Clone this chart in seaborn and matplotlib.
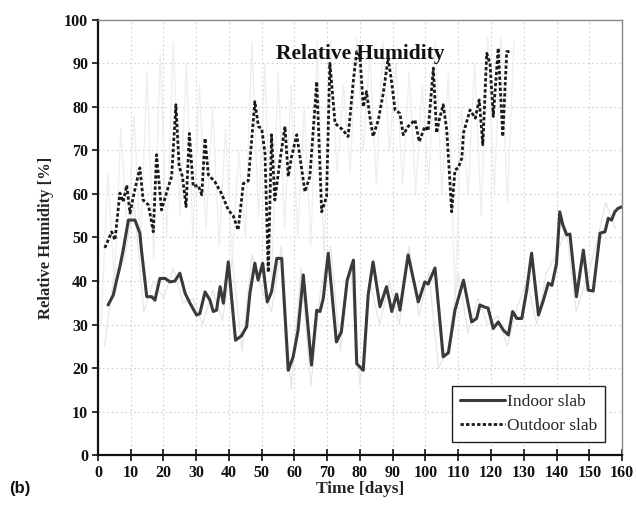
import matplotlib
matplotlib.use("Agg")
import matplotlib.pyplot as plt
import seaborn as sns
import pandas as pd

# ---- data ----
outdoor_days = [2.1, 4.2, 5.2, 6.7, 7.7, 8.8, 9.8, 10.8, 12.8, 13.8,
                15.4, 16.9, 17.9, 19.4, 21.5, 22.5, 23.8, 24.8, 25.8, 26.9,
                27.9, 29.1, 30.6, 31.7, 32.7, 33.7, 35.7, 37.8, 39.8, 41.3,
                42.8, 44.4, 45.9, 47.9, 49.0, 50.0, 51.0, 52.0, 53.0, 54.0,
                55.6, 57.1, 58.1, 59.1, 60.7, 63.2, 64.7, 66.8, 68.3, 69.8,
                70.8, 72.4, 74.5, 76.4, 78.0, 79.0, 80.0, 81.0, 82.0, 83.0,
                84.0, 85.6, 87.1, 88.6, 89.7, 90.7, 92.2, 93.2, 94.7, 96.8,
                98.1, 99.8, 100.8, 102.4, 103.4, 104.2, 105.4, 106.5, 108.0, 109.0,
                110.0, 111.1, 111.6, 113.6, 115.2, 116.4, 117.5, 118.7, 119.7, 120.7,
                122.2, 123.6, 124.8, 125.8]
outdoor_rh = [47.6, 51.3, 49.4, 60.2, 58.2, 62.0, 55.6, 59.4, 66.0, 58.6,
              57.5, 51.3, 69.0, 56.3, 61.7, 64.0, 80.5, 66.3, 64.0, 57.1,
              73.9, 61.7, 62.0, 59.8, 72.8, 64.4, 62.8, 60.0, 56.3, 55.0,
              51.7, 62.4, 63.0, 81.2, 75.5, 75.0, 69.4, 42.0, 73.6, 58.6,
              67.8, 75.5, 64.0, 68.5, 73.6, 60.5, 64.0, 85.8, 55.9, 59.4,
              90.0, 76.2, 74.9, 73.2, 86.2, 92.7, 91.6, 80.0, 83.5, 77.8,
              73.2, 77.0, 83.1, 91.2, 85.5, 79.3, 78.5, 73.6, 75.5, 77.0,
              72.0, 75.5, 74.5, 88.9, 74.0, 77.0, 80.5, 74.7, 55.9, 65.5,
              66.0, 68.2, 74.0, 79.3, 77.4, 81.6, 71.3, 92.3, 90.0, 77.8,
              93.5, 73.2, 92.7, 92.7]

indoor_days = [3.1, 4.7, 5.7, 6.7, 7.7, 9.3, 11.3, 12.8, 13.3, 14.9,
               16.4, 17.4, 18.9, 20.5, 22.0, 23.5, 25.0, 26.6, 28.1, 30.1,
               31.1, 32.7, 34.2, 35.2, 36.2, 37.3, 38.3, 39.8, 42.0, 43.8,
               45.4, 46.4, 47.9, 48.9, 50.3, 51.7, 53.0, 54.6, 56.1, 58.1,
               59.6, 61.1, 62.7, 65.2, 66.8, 67.8, 68.8, 70.3, 72.8, 74.3,
               76.1, 78.0, 79.0, 81.0, 82.5, 84.0, 86.1, 88.1, 89.7, 91.2,
               92.2, 94.7, 97.8, 99.8, 100.8, 102.9, 105.4, 107.0, 109.0, 111.6,
               114.1, 115.6, 116.6, 118.1, 119.1, 120.7, 122.2, 123.8, 125.3, 126.6,
               127.9, 129.4, 130.9, 132.4, 134.5, 136.0, 137.5, 138.6, 140.0, 141.0,
               141.9, 143.1, 144.1, 146.1, 148.2, 149.7, 151.2, 153.3, 154.8, 155.8,
               156.8, 157.8, 158.8, 159.8]
indoor_rh = [34.5, 36.8, 40.2, 43.3, 47.1, 54.0, 54.0, 51.0, 47.0, 36.4,
             36.4, 35.6, 40.6, 40.6, 39.8, 40.0, 41.8, 37.2, 34.9, 32.2,
             32.5, 37.5, 35.6, 33.0, 33.3, 38.7, 34.9, 44.4, 26.4, 27.4,
             29.5, 37.2, 44.1, 40.2, 44.1, 35.2, 37.5, 45.2, 45.2, 19.5,
             22.6, 28.7, 41.4, 20.7, 33.3, 33.0, 36.0, 46.4, 26.0, 28.3,
             40.2, 44.8, 21.0, 19.5, 36.8, 44.4, 34.1, 38.7, 33.0, 37.0,
             33.3, 46.0, 35.2, 39.8, 39.3, 43.0, 22.6, 23.5, 33.3, 40.2,
             30.6, 31.4, 34.5, 34.0, 33.8, 29.1, 30.6, 28.7, 27.6, 33.0,
             31.4, 31.4, 37.9, 46.4, 32.2, 35.6, 39.5, 39.0, 44.0, 55.9,
             53.0, 50.6, 50.8, 36.4, 47.1, 37.9, 37.7, 51.0, 51.3, 54.4,
             54.0, 55.9, 56.7, 57.0]

# faint raw (unsmoothed) records in the background
raw_out_days = [1, 3, 5, 7, 9, 11, 13, 15, 17, 19, 21, 23, 25, 27, 29, 31,
                33, 35, 37, 39, 41, 43, 45, 47, 49, 51, 53, 55, 57, 59, 61, 63,
                65, 67, 69, 71, 73, 75, 77, 79, 81, 83, 85, 87, 89, 91, 93, 95,
                97, 99, 101, 103, 105, 107, 109, 111, 113, 115, 117, 119, 121, 123, 125, 127]
raw_out_rh = [30, 65, 40, 75, 50, 78, 48, 88, 45, 92, 50, 95, 55, 90, 50, 85,
              52, 80, 48, 75, 45, 70, 50, 95, 55, 90, 38, 88, 52, 85, 50, 80,
              48, 95, 45, 95, 65, 85, 65, 96, 70, 92, 62, 95, 70, 90, 62, 88,
              60, 85, 62, 95, 60, 88, 35, 80, 60, 90, 55, 96, 60, 96, 58, 95]
raw_in_days = [2, 5, 8, 11, 14, 17, 20, 23, 26, 29, 32, 35, 38, 41, 44, 47,
               50, 53, 56, 59, 62, 65, 68, 71, 74, 77, 80, 83, 86, 89, 92, 95,
               98, 101, 104, 107, 110, 113, 116, 119, 122, 125, 128, 131, 134, 137,
               140, 143, 146, 149, 152, 155, 158]
raw_in_rh = [25, 42, 45, 58, 33, 40, 36, 43, 35, 36, 30, 38, 31, 45, 24, 46,
             38, 33, 48, 15, 43, 16, 38, 48, 24, 44, 16, 40, 30, 40, 30, 48,
             32, 42, 20, 25, 42, 28, 36, 30, 32, 25, 34, 40, 30, 42,
             46, 52, 33, 40, 48, 58, 52]

x_ticks = list(range(0, 161, 10))
y_ticks = list(range(0, 101, 10))

# ---- style ----
sns.set_style("ticks")
plt.rcParams["font.family"] = ["Liberation Serif", "DejaVu Serif"]
plt.rcParams["font.weight"] = "bold"

fig = plt.figure(figsize=(6.36, 5.08), dpi=100)
ax = fig.add_axes([0.154, 0.104, 0.824, 0.857])

raw_out = pd.DataFrame({"day": raw_out_days, "rh": raw_out_rh})
raw_in = pd.DataFrame({"day": raw_in_days, "rh": raw_in_rh})
sns.lineplot(data=raw_out, x="day", y="rh", ax=ax, color="#eeeeee", lw=0.9, zorder=1)
sns.lineplot(data=raw_in, x="day", y="rh", ax=ax, color="#e6e6e6", lw=0.9, zorder=1)

ind = pd.DataFrame({"day": indoor_days, "rh": indoor_rh})
out = pd.DataFrame({"day": outdoor_days, "rh": outdoor_rh})
sns.lineplot(data=ind, x="day", y="rh", ax=ax, color="#3a3a3a", lw=2.2,
             label="Indoor slab", zorder=3)
sns.lineplot(data=out, x="day", y="rh", ax=ax, color="#1a1a1a", lw=2.0,
             linestyle=(0, (1.2, 0.8)), label="Outdoor slab", zorder=3)

ax.set_xlim(0, 160)
ax.set_ylim(0, 100)
ax.set_xticks(x_ticks)
ax.set_yticks(y_ticks)
ax.grid(True, color="#d0d0d0", linestyle=(0, (1.5, 2.5)), lw=0.8)
ax.set_axisbelow(True)

for s in ["left", "bottom"]:
    ax.spines[s].set_color("#111111")
    ax.spines[s].set_linewidth(1.6)
for s in ["top", "right"]:
    ax.spines[s].set_color("#888888")
    ax.spines[s].set_linewidth(1.0)

ax.tick_params(axis="x", direction="inout", length=8, width=1.2, colors="#111111",
               labelsize=11.5, pad=3)
ax.tick_params(axis="y", direction="out", length=4, width=1.2, colors="#111111",
               labelsize=11.5, pad=3)
for lab in ax.get_xticklabels() + ax.get_yticklabels():
    lab.set_fontweight("bold")

ax.set_xlabel("Time [days]", fontsize=12.5, fontweight="bold", labelpad=0)
ax.set_ylabel("Relative Humidity [%]", fontsize=12, fontweight="bold", labelpad=7)
ax.text(0.5, 0.945, "Relative Humidity", transform=ax.transAxes, ha="center",
        va="top", fontsize=15.5, fontweight="bold", color="#111111")

leg = ax.legend(loc="lower right", frameon=True, fancybox=False, framealpha=1,
                edgecolor="#222222", handlelength=2.6,
                handletextpad=0.15, borderpad=0.45, labelspacing=0.45,
                bbox_to_anchor=(0.985, 0.01),
                prop={"family": ["Liberation Serif"], "weight": "normal", "size": 12.5})
leg.get_frame().set_linewidth(1.0)

fig.text(0.015, 0.03, "(b)", fontsize=12, fontweight="bold",
         family=["Liberation Sans", "DejaVu Sans"], color="#111111")

fig.savefig("out.png", dpi=100)
